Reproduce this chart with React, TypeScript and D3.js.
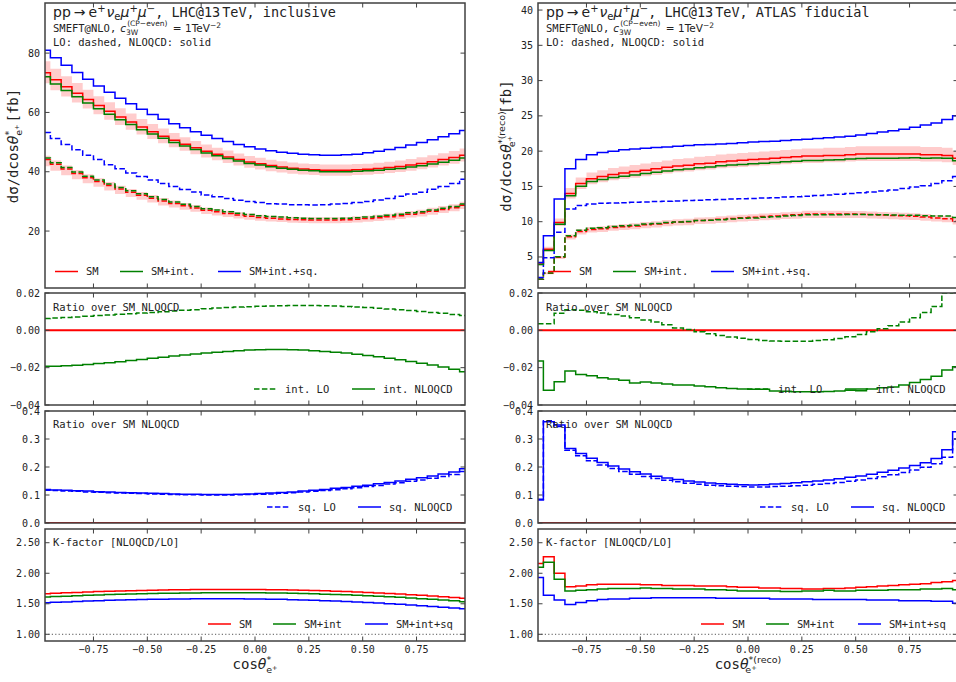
import React from "react";
import * as d3 from "d3";

// ---------------- data ----------------
const binCenters = [-0.975, -0.925, -0.875, -0.825, -0.775, -0.725, -0.675, -0.625, -0.575, -0.525, -0.475, -0.425, -0.375, -0.325, -0.275, -0.225, -0.175, -0.125, -0.075, -0.025, 0.025, 0.075, 0.125, 0.175, 0.225, 0.275, 0.325, 0.375, 0.425, 0.475, 0.525, 0.575, 0.625, 0.675, 0.725, 0.775, 0.825, 0.875, 0.925, 0.975];
const xTicks = [-0.75, -0.5, -0.25, 0, 0.25, 0.5, 0.75];

// inclusive (left column)
const incSmNlo = [73.4, 71.0, 68.7, 66.5, 64.4, 62.3, 60.4, 58.5, 56.8, 55.1, 53.5, 52.0, 50.6, 49.3, 48.1, 46.9, 45.9, 45.0, 44.1, 43.3, 42.7, 42.1, 41.6, 41.2, 40.9, 40.7, 40.5, 40.5, 40.5, 40.7, 40.8, 41.1, 41.4, 41.8, 42.3, 42.8, 43.4, 44.1, 44.8, 45.6];
const incIntNlo = [72.0, 69.6, 67.4, 65.3, 63.2, 61.2, 59.4, 57.5, 55.9, 54.2, 52.7, 51.3, 49.9, 48.7, 47.5, 46.3, 45.4, 44.5, 43.6, 42.8, 42.3, 41.7, 41.2, 40.8, 40.5, 40.3, 40.0, 40.0, 40.0, 40.2, 40.3, 40.5, 40.8, 41.1, 41.6, 42.0, 42.6, 43.2, 43.9, 44.6];
const incSqNlo = [81.0, 78.4, 75.9, 73.5, 71.2, 68.9, 66.8, 64.8, 62.9, 61.1, 59.3, 57.7, 56.2, 54.8, 53.5, 52.3, 51.2, 50.2, 49.2, 48.4, 47.7, 47.1, 46.6, 46.2, 45.9, 45.7, 45.6, 45.6, 45.7, 45.9, 46.4, 46.9, 47.5, 48.2, 49.0, 49.9, 50.8, 51.8, 52.8, 53.9];
const incSmLo = [44.1, 42.5, 40.9, 39.4, 38.0, 36.7, 35.4, 34.2, 33.1, 32.1, 31.1, 30.1, 29.3, 28.5, 27.8, 27.0, 26.5, 25.9, 25.4, 25.0, 24.6, 24.3, 24.1, 23.9, 23.8, 23.7, 23.7, 23.7, 23.8, 24.0, 24.2, 24.5, 24.8, 25.2, 25.7, 26.1, 26.7, 27.3, 27.9, 28.7];
const incIntLo = [44.6, 43.0, 41.4, 39.9, 38.5, 37.2, 35.9, 34.7, 33.6, 32.6, 31.6, 30.6, 29.8, 29.0, 28.3, 27.5, 27.1, 26.5, 26.0, 25.6, 25.2, 24.9, 24.7, 24.5, 24.3, 24.2, 24.2, 24.2, 24.3, 24.5, 24.7, 25.0, 25.3, 25.7, 26.2, 26.5, 27.1, 27.7, 28.3, 29.1];
const incSqLo = [53.2, 51.2, 49.2, 47.4, 45.6, 44.1, 42.4, 41.0, 39.6, 38.4, 37.2, 36.0, 35.0, 34.0, 33.2, 32.2, 31.6, 31.0, 30.4, 30.0, 29.6, 29.2, 29.1, 28.9, 28.9, 28.8, 28.9, 29.1, 29.3, 29.6, 30.0, 30.5, 31.0, 31.7, 32.5, 33.1, 34.1, 35.0, 36.0, 37.5];
const incNloUp = [0.052, 0.052, 0.051, 0.051, 0.051, 0.050, 0.050, 0.050, 0.050, 0.049, 0.049, 0.049, 0.049, 0.048, 0.048, 0.048, 0.048, 0.048, 0.047, 0.047, 0.047, 0.047, 0.047, 0.047, 0.047, 0.047, 0.047, 0.047, 0.047, 0.047, 0.047, 0.047, 0.048, 0.048, 0.048, 0.048, 0.049, 0.049, 0.049, 0.050];
const incNloDn = [0.049, 0.049, 0.048, 0.048, 0.048, 0.047, 0.047, 0.047, 0.047, 0.046, 0.046, 0.046, 0.046, 0.045, 0.045, 0.045, 0.045, 0.045, 0.045, 0.045, 0.045, 0.045, 0.045, 0.045, 0.045, 0.045, 0.045, 0.045, 0.045, 0.045, 0.045, 0.045, 0.045, 0.046, 0.046, 0.046, 0.046, 0.046, 0.047, 0.047];
const incLoUp = [0.030, 0.030, 0.030, 0.031, 0.031, 0.031, 0.032, 0.032, 0.032, 0.033, 0.033, 0.034, 0.034, 0.034, 0.035, 0.035, 0.036, 0.036, 0.036, 0.037, 0.037, 0.037, 0.038, 0.038, 0.038, 0.039, 0.039, 0.039, 0.040, 0.040, 0.040, 0.040, 0.041, 0.041, 0.041, 0.041, 0.042, 0.042, 0.042, 0.042];
const incLoDn = [0.050, 0.050, 0.050, 0.050, 0.049, 0.049, 0.049, 0.049, 0.048, 0.048, 0.048, 0.048, 0.047, 0.047, 0.047, 0.047, 0.046, 0.046, 0.046, 0.046, 0.046, 0.045, 0.045, 0.045, 0.045, 0.045, 0.045, 0.045, 0.045, 0.045, 0.045, 0.045, 0.045, 0.045, 0.045, 0.045, 0.045, 0.045, 0.045, 0.045];
const incIntRatioLo = [0.0063, 0.0066, 0.0069, 0.0072, 0.0075, 0.0079, 0.0082, 0.0086, 0.0089, 0.0093, 0.0096, 0.0100, 0.0103, 0.0107, 0.0110, 0.0116, 0.0119, 0.0122, 0.0125, 0.0127, 0.0129, 0.0131, 0.0132, 0.0133, 0.0133, 0.0133, 0.0132, 0.0130, 0.0128, 0.0125, 0.0122, 0.0118, 0.0114, 0.0110, 0.0106, 0.0101, 0.0096, 0.0091, 0.0085, 0.0079];
const incIntRatioNlo = [-0.0193, -0.0192, -0.0190, -0.0187, -0.0183, -0.0178, -0.0173, -0.0168, -0.0162, -0.0156, -0.0150, -0.0144, -0.0138, -0.0132, -0.0127, -0.0122, -0.0117, -0.0113, -0.0109, -0.0106, -0.0104, -0.0103, -0.0103, -0.0104, -0.0106, -0.0109, -0.0113, -0.0117, -0.0122, -0.0128, -0.0135, -0.0142, -0.0150, -0.0158, -0.0167, -0.0176, -0.0186, -0.0197, -0.0208, -0.0222];
const incSqRatioLo = [0.117, 0.116, 0.114, 0.113, 0.111, 0.110, 0.108, 0.107, 0.106, 0.105, 0.104, 0.103, 0.102, 0.101, 0.101, 0.100, 0.100, 0.100, 0.101, 0.102, 0.103, 0.104, 0.106, 0.108, 0.111, 0.113, 0.116, 0.119, 0.122, 0.126, 0.130, 0.134, 0.139, 0.144, 0.149, 0.154, 0.160, 0.166, 0.173, 0.184];
const incSqRatioNlo = [0.120, 0.118, 0.117, 0.115, 0.114, 0.112, 0.111, 0.109, 0.108, 0.107, 0.106, 0.105, 0.104, 0.103, 0.103, 0.102, 0.102, 0.102, 0.103, 0.104, 0.105, 0.107, 0.109, 0.111, 0.114, 0.117, 0.120, 0.124, 0.127, 0.131, 0.135, 0.140, 0.145, 0.150, 0.156, 0.162, 0.168, 0.175, 0.182, 0.194];
const incKSm = [1.664, 1.672, 1.679, 1.686, 1.693, 1.699, 1.704, 1.709, 1.714, 1.718, 1.722, 1.725, 1.728, 1.730, 1.732, 1.734, 1.735, 1.735, 1.735, 1.734, 1.733, 1.731, 1.729, 1.725, 1.722, 1.717, 1.712, 1.707, 1.700, 1.693, 1.686, 1.678, 1.669, 1.659, 1.649, 1.638, 1.627, 1.615, 1.603, 1.589];
const incKInt = [1.610, 1.618, 1.625, 1.632, 1.639, 1.645, 1.650, 1.655, 1.660, 1.664, 1.668, 1.671, 1.674, 1.676, 1.678, 1.680, 1.681, 1.681, 1.681, 1.680, 1.679, 1.677, 1.675, 1.671, 1.668, 1.663, 1.658, 1.653, 1.646, 1.639, 1.632, 1.624, 1.615, 1.605, 1.595, 1.584, 1.573, 1.561, 1.549, 1.534];
const incKSq = [1.517, 1.524, 1.531, 1.538, 1.545, 1.551, 1.556, 1.561, 1.565, 1.569, 1.572, 1.575, 1.578, 1.580, 1.582, 1.583, 1.584, 1.583, 1.582, 1.580, 1.578, 1.575, 1.572, 1.567, 1.563, 1.557, 1.551, 1.545, 1.537, 1.529, 1.521, 1.512, 1.502, 1.491, 1.480, 1.468, 1.456, 1.444, 1.432, 1.419];

// ATLAS fiducial (right column)
const fidSmNlo = [4.0, 6.1, 9.9, 14.0, 15.4, 16.1, 16.4, 16.7, 16.9, 17.1, 17.3, 17.5, 17.7, 17.9, 18.0, 18.2, 18.3, 18.5, 18.6, 18.7, 18.8, 18.9, 19.0, 19.1, 19.2, 19.3, 19.3, 19.4, 19.4, 19.5, 19.6, 19.6, 19.6, 19.6, 19.6, 19.6, 19.5, 19.5, 19.4, 19.0];
const fidIntNlo = [3.93, 5.90, 9.63, 13.69, 15.04, 15.71, 15.98, 16.26, 16.45, 16.62, 16.82, 17.01, 17.19, 17.38, 17.47, 17.66, 17.75, 17.93, 18.02, 18.11, 18.21, 18.30, 18.38, 18.48, 18.57, 18.67, 18.67, 18.76, 18.77, 18.87, 18.97, 18.98, 19.0, 19.0, 19.03, 19.05, 18.99, 19.02, 18.99, 18.63];
const fidSqNlo = [4.2, 8.0, 13.2, 17.5, 18.8, 19.5, 19.8, 20.0, 20.2, 20.3, 20.4, 20.5, 20.6, 20.7, 20.8, 20.9, 20.95, 21.0, 21.1, 21.2, 21.3, 21.35, 21.4, 21.5, 21.6, 21.7, 21.8, 21.9, 22.0, 22.1, 22.3, 22.5, 22.7, 22.9, 23.1, 23.4, 23.7, 24.0, 24.5, 25.0];
const fidSmLo = [1.85, 2.69, 4.95, 7.87, 8.6, 8.9, 9.0, 9.18, 9.29, 9.4, 9.56, 9.67, 9.83, 9.94, 10.0, 10.17, 10.22, 10.34, 10.45, 10.56, 10.62, 10.74, 10.8, 10.91, 10.97, 11.09, 11.09, 11.09, 11.09, 11.08, 11.07, 11.01, 10.95, 10.89, 10.83, 10.77, 10.66, 10.54, 10.43, 10.1];
const fidIntLo = [1.86, 2.71, 5.04, 8.02, 8.77, 9.06, 9.15, 9.32, 9.42, 9.51, 9.66, 9.75, 9.88, 9.96, 10.01, 10.16, 10.19, 10.29, 10.38, 10.48, 10.53, 10.64, 10.69, 10.80, 10.86, 10.98, 10.98, 10.99, 11.0, 11.01, 11.03, 10.99, 10.97, 10.94, 10.92, 10.90, 10.85, 10.79, 10.82, 10.59];
const fidSqLo = [2.1, 4.9, 8.5, 11.8, 12.3, 12.5, 12.6, 12.65, 12.7, 12.75, 12.8, 12.85, 12.9, 12.95, 13.0, 13.05, 13.1, 13.15, 13.2, 13.25, 13.3, 13.35, 13.4, 13.5, 13.55, 13.6, 13.7, 13.8, 13.9, 14.0, 14.1, 14.2, 14.35, 14.5, 14.7, 14.9, 15.1, 15.4, 15.8, 16.4];
const fidNloUp = [0.060, 0.058, 0.056, 0.055, 0.055, 0.055, 0.055, 0.055, 0.055, 0.055, 0.055, 0.055, 0.055, 0.055, 0.055, 0.055, 0.055, 0.055, 0.055, 0.055, 0.055, 0.055, 0.055, 0.055, 0.055, 0.055, 0.055, 0.055, 0.055, 0.055, 0.055, 0.055, 0.055, 0.055, 0.055, 0.055, 0.055, 0.055, 0.055, 0.056];
const fidNloDn = [0.050, 0.050, 0.050, 0.050, 0.050, 0.050, 0.050, 0.050, 0.050, 0.050, 0.050, 0.050, 0.050, 0.050, 0.050, 0.050, 0.050, 0.050, 0.050, 0.050, 0.050, 0.050, 0.050, 0.050, 0.050, 0.050, 0.050, 0.050, 0.050, 0.050, 0.050, 0.050, 0.050, 0.050, 0.050, 0.050, 0.050, 0.050, 0.050, 0.050];
const fidLoUp = [0.040, 0.040, 0.040, 0.040, 0.040, 0.040, 0.040, 0.040, 0.040, 0.040, 0.040, 0.040, 0.040, 0.040, 0.040, 0.040, 0.040, 0.040, 0.040, 0.040, 0.040, 0.040, 0.040, 0.040, 0.040, 0.040, 0.040, 0.040, 0.040, 0.040, 0.040, 0.040, 0.040, 0.040, 0.040, 0.040, 0.040, 0.040, 0.040, 0.040];
const fidLoDn = [0.050, 0.050, 0.050, 0.050, 0.050, 0.050, 0.050, 0.050, 0.050, 0.050, 0.050, 0.050, 0.050, 0.050, 0.050, 0.050, 0.050, 0.050, 0.050, 0.050, 0.050, 0.050, 0.050, 0.050, 0.050, 0.050, 0.050, 0.050, 0.050, 0.050, 0.050, 0.050, 0.050, 0.050, 0.050, 0.050, 0.050, 0.050, 0.050, 0.050];
const fidIntRatioLo = [0.0035, 0.0035, 0.0092, 0.0110, 0.0108, 0.0100, 0.0093, 0.0085, 0.0077, 0.0067, 0.0056, 0.0045, 0.0030, 0.0013, 0.0005, -0.0008, -0.0018, -0.0028, -0.0036, -0.0043, -0.0049, -0.0054, -0.0057, -0.0059, -0.0059, -0.0058, -0.0055, -0.0050, -0.0044, -0.0035, -0.0022, -0.0008, 0.0008, 0.0025, 0.0045, 0.0068, 0.0095, 0.0128, 0.0200, 0.0260];
const fidIntRatioNlo = [-0.0164, -0.0321, -0.0275, -0.0218, -0.0236, -0.0243, -0.0254, -0.0261, -0.0268, -0.0282, -0.0277, -0.0282, -0.0288, -0.0293, -0.0293, -0.0298, -0.0302, -0.0307, -0.0311, -0.0314, -0.0316, -0.0316, -0.0325, -0.0327, -0.0329, -0.0329, -0.0329, -0.0328, -0.0325, -0.0321, -0.0323, -0.0314, -0.0307, -0.0304, -0.0293, -0.0279, -0.0264, -0.0246, -0.0212, -0.0195];
const fidSqRatioLo = [0.085, 0.365, 0.345, 0.260, 0.240, 0.222, 0.207, 0.195, 0.184, 0.174, 0.166, 0.159, 0.153, 0.147, 0.142, 0.138, 0.135, 0.133, 0.131, 0.130, 0.129, 0.129, 0.130, 0.131, 0.133, 0.135, 0.138, 0.141, 0.145, 0.149, 0.154, 0.159, 0.165, 0.172, 0.180, 0.189, 0.199, 0.212, 0.235, 0.300];
const fidSqRatioNlo = [0.082, 0.362, 0.350, 0.266, 0.248, 0.231, 0.216, 0.204, 0.193, 0.183, 0.175, 0.167, 0.161, 0.155, 0.150, 0.146, 0.143, 0.140, 0.138, 0.137, 0.136, 0.137, 0.139, 0.141, 0.144, 0.147, 0.150, 0.154, 0.158, 0.163, 0.168, 0.174, 0.181, 0.188, 0.196, 0.205, 0.215, 0.230, 0.262, 0.326];
const fidKSm = [2.16, 2.27, 2.00, 1.78, 1.79, 1.81, 1.82, 1.82, 1.82, 1.82, 1.81, 1.81, 1.80, 1.80, 1.80, 1.79, 1.79, 1.79, 1.78, 1.77, 1.77, 1.76, 1.76, 1.75, 1.75, 1.74, 1.74, 1.75, 1.75, 1.76, 1.77, 1.78, 1.79, 1.80, 1.81, 1.82, 1.83, 1.85, 1.86, 1.88];
const fidKInt = [2.10, 2.18, 1.90, 1.71, 1.72, 1.73, 1.74, 1.75, 1.75, 1.75, 1.76, 1.75, 1.75, 1.74, 1.74, 1.74, 1.73, 1.73, 1.72, 1.71, 1.71, 1.71, 1.71, 1.70, 1.70, 1.71, 1.71, 1.72, 1.71, 1.71, 1.72, 1.72, 1.72, 1.73, 1.73, 1.73, 1.74, 1.74, 1.75, 1.73];
const fidKSq = [1.93, 1.64, 1.56, 1.49, 1.52, 1.55, 1.57, 1.58, 1.58, 1.59, 1.59, 1.60, 1.60, 1.60, 1.60, 1.60, 1.60, 1.59, 1.59, 1.59, 1.59, 1.59, 1.58, 1.58, 1.58, 1.58, 1.57, 1.57, 1.57, 1.57, 1.57, 1.56, 1.56, 1.56, 1.55, 1.55, 1.55, 1.54, 1.54, 1.51];

const incTopTicks = [20, 40, 60, 80];
const fidTopTicks = [5, 10, 15, 20, 25, 30, 35, 40];
const intTicks = [-0.04, -0.02, 0, 0.02];
const sqTicks = [0, 0.1, 0.2, 0.3, 0.4];
const kTicks = [1, 1.5, 2, 2.5];

// ---------------- layout ----------------
const W = 956;
const H = 682;
const PW = 420;
const X_DOMAIN: [number, number] = [-0.975, 0.975];
const MONO = "'DejaVu Sans Mono', monospace";
const SANS = "'DejaVu Sans', sans-serif";
const TXT = "#222";
const SPINE = "#404040";
const RED = "#ff0000";
const GREEN = "#008000";
const BLUE = "#0000ff";

const ROWS = [
  { y: 3, h: 285 },
  { y: 293, h: 112 },
  { y: 411, h: 112 },
  { y: 529, h: 112 },
];

type LineSpec = { v: number[]; c: string; dash?: boolean; w?: number };
type BandSpec = { v: number[]; up: number[]; dn: number[] };
type LegendItem = { label: string; c: string; dash?: boolean };

interface PanelProps {
  id: string;
  px: number;
  row: number;
  domain: [number, number];
  ticks: number[];
  fmt: (v: number) => string;
  lines: LineSpec[];
  bands?: BandSpec[];
  hlines?: { v: number; c: string; dash?: string; w?: number }[];
  xLabels?: boolean;
  label?: string;
  legend?: { items: LegendItem[]; offs: number[]; y: number };
  children?: React.ReactNode;
}

function Panel(p: PanelProps) {
  const { y: py, h: ph } = ROWS[p.row];
  const x = d3.scaleLinear().domain(X_DOMAIN).range([p.px, p.px + PW]);
  const y = d3.scaleLinear().domain(p.domain).range([py + ph, py]);
  const line = d3
    .line<number>()
    .x((_, i) => x(binCenters[i]))
    .y((d) => y(d))
    .curve(d3.curveStep);
  const clip = `clip-${p.id}`;
  const tl = 4.5;
  return (
    <g>
      <defs>
        <clipPath id={clip}>
          <rect x={p.px} y={py} width={PW} height={ph} />
        </clipPath>
      </defs>
      <g clipPath={`url(#${clip})`}>
        {(p.bands || []).map((b, k) => {
          const area = d3
            .area<number>()
            .x((_, i) => x(binCenters[i]))
            .y0((d, i) => y(d * (1 - b.dn[i])))
            .y1((d, i) => y(d * (1 + b.up[i])))
            .curve(d3.curveStep);
          return <path key={"b" + k} d={area(b.v) || ""} fill={RED} fillOpacity={0.2} stroke="none" />;
        })}
        {(p.hlines || []).map((hl, k) => (
          <line key={"h" + k} x1={p.px} x2={p.px + PW} y1={y(hl.v)} y2={y(hl.v)} stroke={hl.c} strokeWidth={hl.w ?? 1.5} strokeDasharray={hl.dash} />
        ))}
        {p.lines.map((l, k) => (
          <path
            key={"l" + k}
            d={line(l.v) || ""}
            fill="none"
            stroke={l.c}
            strokeWidth={l.w ?? 1.5}
            strokeDasharray={l.dash ? "5.5,2.4" : undefined}
          />
        ))}
      </g>
      <rect x={p.px} y={py} width={PW} height={ph} fill="none" stroke={SPINE} strokeWidth={1.5} />
      {p.ticks.map((t) => (
        <g key={"yt" + t}>
          <line x1={p.px} x2={p.px + tl} y1={y(t)} y2={y(t)} stroke={SPINE} strokeWidth={1} />
          <line x1={p.px + PW - tl} x2={p.px + PW} y1={y(t)} y2={y(t)} stroke={SPINE} strokeWidth={1} />
          <text x={p.px - 5} y={y(t)} dy="0.35em" textAnchor="end" fontFamily={MONO} fontSize={10} fill={TXT}>
            {p.fmt(t)}
          </text>
        </g>
      ))}
      {xTicks.map((t) => (
        <g key={"xt" + t}>
          <line x1={x(t)} x2={x(t)} y1={py} y2={py + tl} stroke={SPINE} strokeWidth={1} />
          <line x1={x(t)} x2={x(t)} y1={py + ph - tl} y2={py + ph} stroke={SPINE} strokeWidth={1} />
          {p.xLabels && (
            <text x={x(t)} y={py + ph + 11.5} textAnchor="middle" fontFamily={MONO} fontSize={10} fill={TXT}>
              {d3.format(".2f")(t)}
            </text>
          )}
        </g>
      ))}
      {p.label && (
        <text x={p.px + 8} y={py + (p.row === 1 ? 17.5 : 16.5)} fontFamily={MONO} fontSize={10.5} fill={TXT}>
          {p.label}
        </text>
      )}
      {p.legend &&
        p.legend.items.map((it, k) => {
          const lx = p.px + p.legend!.offs[k];
          return (
            <g key={"lg" + k}>
              <line
                x1={lx}
                x2={lx + 23}
                y1={p.legend!.y}
                y2={p.legend!.y}
                stroke={it.c}
                strokeWidth={1.5}
                strokeDasharray={it.dash ? "5.5,2.4" : undefined}
              />
              <text x={lx + 31} y={p.legend!.y} dy="0.35em" fontFamily={MONO} fontSize={10.5} fill={TXT}>
                {it.label}
              </text>
            </g>
          );
        })}
      {p.children}
    </g>
  );
}

function Header({ px, region }: { px: number; region: string }) {
  const x = px + 8;
  return (
    <g fill={TXT}>
      <text x={x} y={17} fontFamily={MONO} fontSize={13.5}>
        <tspan fontFamily={SANS} fontSize={14}>pp</tspan>
        <tspan fontFamily={SANS} fontSize={14} dx={3}>→</tspan>
        <tspan fontFamily={SANS} fontSize={14} dx={3}>e</tspan>
        <tspan fontFamily={SANS} dy={-5.5} fontSize={10}>+</tspan>
        <tspan fontFamily={SANS} fontSize={14} dy={5.5} dx={1} fontStyle="italic">ν</tspan>
        <tspan fontFamily={SANS} dy={3} fontSize={10}>e</tspan>
        <tspan fontFamily={SANS} fontSize={14} dy={-3} fontStyle="italic">μ</tspan>
        <tspan fontFamily={SANS} dy={-5.5} fontSize={10}>+</tspan>
        <tspan fontFamily={SANS} fontSize={14} dy={5.5} fontStyle="italic">μ</tspan>
        <tspan fontFamily={SANS} dy={-5.5} fontSize={10}>−</tspan>
        <tspan dy={5.5}>, LHC@13</tspan>
        <tspan dx={2}>TeV, {region}</tspan>
      </text>
      <text x={x} y={31.5} fontFamily={MONO} fontSize={10.5}>
        SMEFT@NLO,
        <tspan fontFamily={SANS} fontStyle="italic" dx={4}>c</tspan>
        <tspan fontFamily={SANS} fontSize={7.5} dy={3.5}>3W</tspan>
        <tspan fontFamily={SANS} fontSize={7.5} dx={-11} dy={-9}>(CP−even)</tspan>
        <tspan fontFamily={SANS} dy={5.5} dx={2}> = 1TeV</tspan>
        <tspan fontFamily={SANS} fontSize={7.5} dy={-4}>−2</tspan>
      </text>
      <text x={x} y={46} fontFamily={MONO} fontSize={10.5}>
        LO: dashed, NLOQCD: solid
      </text>
    </g>
  );
}

const f2 = d3.format(".2f");
const f1 = d3.format(".1f");
const f0 = d3.format("d");

const topLegend: LegendItem[] = [
  { label: "SM", c: RED },
  { label: "SM+int.", c: GREEN },
  { label: "SM+int.+sq.", c: BLUE },
];
const intLegend: LegendItem[] = [
  { label: "int. LO", c: GREEN, dash: true },
  { label: "int. NLOQCD", c: GREEN },
];
const sqLegend: LegendItem[] = [
  { label: "sq. LO", c: BLUE, dash: true },
  { label: "sq. NLOQCD", c: BLUE },
];
const kLegend: LegendItem[] = [
  { label: "SM", c: RED },
  { label: "SM+int", c: GREEN },
  { label: "SM+int+sq", c: BLUE },
];

function Column(props: {
  id: string;
  px: number;
  region: string;
  topDomain: [number, number];
  topTicks: number[];
  smNlo: number[]; intNlo: number[]; sqNlo: number[];
  smLo: number[]; intLo: number[]; sqLo: number[];
  nloUp: number[]; nloDn: number[]; loUp: number[]; loDn: number[];
  intRLo: number[]; intRNlo: number[]; sqRLo: number[]; sqRNlo: number[];
  kSm: number[]; kInt: number[]; kSq: number[];
  reco: boolean;
}) {
  const p = props;
  const ylx = p.px - 27;
  const ycy = 146;
  return (
    <g>
      <Panel
        id={p.id + "top"}
        px={p.px}
        row={0}
        domain={p.topDomain}
        ticks={p.topTicks}
        fmt={f0}
        bands={[
          { v: p.smLo, up: p.loUp, dn: p.loDn },
          { v: p.smNlo, up: p.nloUp, dn: p.nloDn },
        ]}
        lines={[
          { v: p.smLo, c: RED, dash: true },
          { v: p.intLo, c: GREEN, dash: true },
          { v: p.sqLo, c: BLUE, dash: true },
          { v: p.smNlo, c: RED },
          { v: p.intNlo, c: GREEN },
          { v: p.sqNlo, c: BLUE },
        ]}
        legend={{ items: topLegend, offs: [10, 75, 173], y: 271.5 }}
      >
        <Header px={p.px} region={p.region} />
      </Panel>
      <Panel
        id={p.id + "int"}
        px={p.px}
        row={1}
        domain={[-0.04, 0.02]}
        ticks={intTicks}
        fmt={f2}
        hlines={[{ v: 0, c: RED, w: 2 }]}
        lines={[
          { v: p.intRLo, c: GREEN, dash: true },
          { v: p.intRNlo, c: GREEN },
        ]}
        label="Ratio over SM NLOQCD"
        legend={{ items: intLegend, offs: [209, 307], y: 389 }}
      />
      <Panel
        id={p.id + "sq"}
        px={p.px}
        row={2}
        domain={[0, 0.4]}
        ticks={sqTicks}
        fmt={f1}
        hlines={[{ v: 0, c: RED, w: 2 }]}
        lines={[
          { v: p.sqRLo, c: BLUE, dash: true },
          { v: p.sqRNlo, c: BLUE },
        ]}
        label="Ratio over SM NLOQCD"
        legend={{ items: sqLegend, offs: [222, 313], y: 507 }}
      />
      <Panel
        id={p.id + "k"}
        px={p.px}
        row={3}
        domain={[0.89, 2.725]}
        ticks={kTicks}
        fmt={f2}
        hlines={[{ v: 1, c: "#555", w: 1, dash: "1.2,2.2" }]}
        lines={[
          { v: p.kSm, c: RED },
          { v: p.kInt, c: GREEN },
          { v: p.kSq, c: BLUE },
        ]}
        label="K-factor [NLOQCD/LO]"
        legend={{ items: kLegend, offs: [163, 228, 320], y: 624 }}
        xLabels
      />
      <text transform={`translate(${ylx},${ycy}) rotate(-90)`} textAnchor="middle" fontFamily={MONO} fontSize={14} fill={TXT}>
        dσ/dcos
        <tspan fontFamily={SANS} fontStyle="italic">θ</tspan>
        {p.reco ? (
          <>
            <tspan fontFamily={SANS} fontSize={9.5} dy={-6}>*(reco)</tspan>
            <tspan fontFamily={SANS} fontSize={9.5} dx={-36} dy={10}>e</tspan>
            <tspan fontFamily={SANS} fontSize={6.5} dy={-3}>+</tspan>
            <tspan dx={22} dy={-1}>[fb]</tspan>
          </>
        ) : (
          <>
            <tspan fontFamily={SANS} fontSize={9.5} dy={-6}>*</tspan>
            <tspan fontFamily={SANS} fontSize={9.5} dx={-5} dy={10}>e</tspan>
            <tspan fontFamily={SANS} fontSize={6.5} dy={-3}>+</tspan>
            <tspan dx={2} dy={-1}>[fb]</tspan>
          </>
        )}
      </text>
      <text x={p.px + PW / 2} y={669} textAnchor="middle" fontFamily={MONO} fontSize={14} fill={TXT}>
        cos
        <tspan fontFamily={SANS} fontStyle="italic">θ</tspan>
        {p.reco ? (
          <>
            <tspan fontFamily={SANS} fontSize={9.5} dy={-6}>*(reco)</tspan>
            <tspan fontFamily={SANS} fontSize={9.5} dx={-36} dy={10}>e</tspan>
            <tspan fontFamily={SANS} fontSize={6.5} dy={-3}>+</tspan>
            <tspan dx={22} dy={-1}> </tspan>
          </>
        ) : (
          <>
            <tspan fontFamily={SANS} fontSize={9.5} dy={-6}>*</tspan>
            <tspan fontFamily={SANS} fontSize={9.5} dx={-5} dy={10}>e</tspan>
            <tspan fontFamily={SANS} fontSize={6.5} dy={-3}>+</tspan>
          </>
        )}
      </text>
    </g>
  );
}

export default function App() {
  return (
    <svg
      width={W}
      height={H}
      viewBox={`0 0 ${W} ${H}`}
      style={{ position: "absolute", left: 0, top: 0, background: "#fff" }}
    >
      <rect x={0} y={0} width={W} height={H} fill="#fff" />
      <Column
        id="inc"
        px={45}
        region="inclusive"
        topDomain={[0.8, 96.9]}
        topTicks={incTopTicks}
        smNlo={incSmNlo} intNlo={incIntNlo} sqNlo={incSqNlo}
        smLo={incSmLo} intLo={incIntLo} sqLo={incSqLo}
        nloUp={incNloUp} nloDn={incNloDn} loUp={incLoUp} loDn={incLoDn}
        intRLo={incIntRatioLo} intRNlo={incIntRatioNlo}
        sqRLo={incSqRatioLo} sqRNlo={incSqRatioNlo}
        kSm={incKSm} kInt={incKInt} kSq={incKSq}
        reco={false}
      />
      <Column
        id="fid"
        px={538}
        region="ATLAS fiducial"
        topDomain={[0.6, 41.0]}
        topTicks={fidTopTicks}
        smNlo={fidSmNlo} intNlo={fidIntNlo} sqNlo={fidSqNlo}
        smLo={fidSmLo} intLo={fidIntLo} sqLo={fidSqLo}
        nloUp={fidNloUp} nloDn={fidNloDn} loUp={fidLoUp} loDn={fidLoDn}
        intRLo={fidIntRatioLo} intRNlo={fidIntRatioNlo}
        sqRLo={fidSqRatioLo} sqRNlo={fidSqRatioNlo}
        kSm={fidKSm} kInt={fidKInt} kSq={fidKSq}
        reco={true}
      />
    </svg>
  );
}
